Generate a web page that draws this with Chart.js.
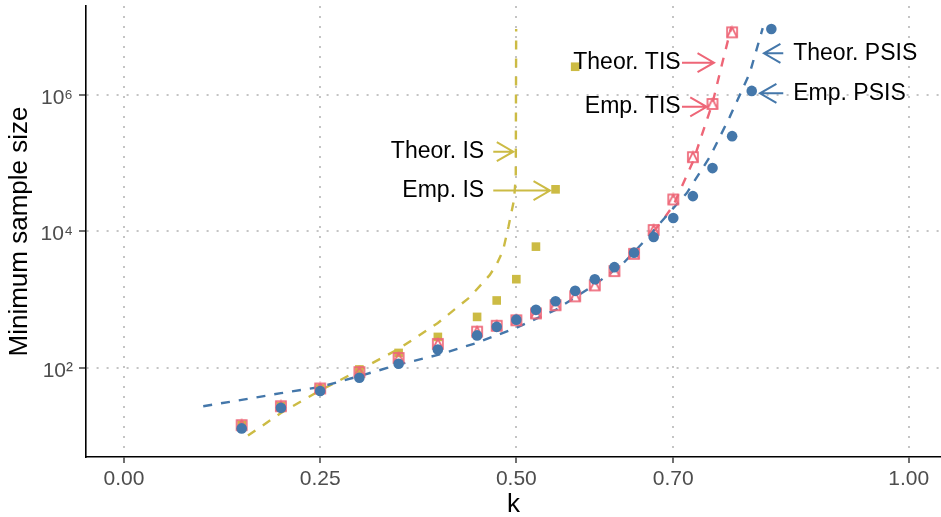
<!DOCTYPE html>
<html>
<head>
<meta charset="utf-8">
<script src="https://cdn.jsdelivr.net/npm/chart.js@4"></script>
<style>
  body { margin: 0; background: #fff; }
</style>
</head>
<body>
<canvas id="chart" width="941" height="517"></canvas>
<script>
// k values of the empirical runs
const kEmp = [0.15, 0.2, 0.25, 0.3, 0.35, 0.4, 0.45, 0.475, 0.5, 0.525, 0.55, 0.575,
              0.6, 0.625, 0.65, 0.675, 0.7, 0.725, 0.75, 0.775, 0.8, 0.825];
const empPSIS = [13, 26, 46, 72, 115, 186, 300, 400, 510, 710, 950, 1350,
                 2000, 3000, 4900, 8300, 15800, 33000, 85000, 250000, 1150000, 9300000];
const empTIS = [14.5, 27.5, 50, 87, 140, 225, 340, 415, 500, 630, 830, 1120,
                1620, 2630, 4700, 10500, 29500, 123000, 740000, 8300000];
const empIS = [14.5, 27.5, 50, 95, 166, 285, 560, 975, 2000, 6000, 41500, 2600000];

// theoretical curves
const kTheoIS = [0.158, 0.2, 0.25, 0.3, 0.35, 0.4, 0.44, 0.466, 0.475, 0.483, 0.49, 0.497, 0.4993, 0.4998];
const theoIS = [10.2, 21.9, 46.8, 93, 190, 457, 1070, 2290, 3310, 5250, 11750, 28800, 63000, 9300000];
const kTheoTIS = [0.675, 0.69, 0.7, 0.725, 0.75, 0.762, 0.774];
const theoTIS = [10000, 16600, 24000, 105000, 760000, 2800000, 10000000];
const kTheoPSIS = [0.101, 0.15, 0.2, 0.25, 0.3, 0.35, 0.4, 0.45, 0.5, 0.55, 0.6, 0.636,
                   0.664, 0.683, 0.717, 0.747, 0.772, 0.7975, 0.814];
const theoPSIS = [27.5, 34, 42.7, 52.5, 76, 112, 155, 234, 389, 708, 1660, 3390,
                  7410, 13200, 36300, 126000, 479000, 2090000, 9550000];

const xTicks = [0, 0.25, 0.5, 0.7, 1];
const yTicks = [1e2, 1e4, 1e6];

const BLUE = '#4477AA', RED = '#EE6677', YEL = '#CCBB44';
const FONT = '"Liberation Sans", Arial, Helvetica, sans-serif';

const pts = (ks, vs) => vs.map((v, i) => ({ x: ks[i], y: v }));

// square with triangle inside (R pch 14)
function tisMarker() {
  const s = 14, c = document.createElement('canvas');
  c.width = c.height = s;
  const g = c.getContext('2d');
  g.strokeStyle = RED;
  g.lineWidth = 1.7;
  const a = 2, b = 12;
  g.strokeRect(a, a, b - a, b - a);
  g.beginPath();
  g.moveTo(a, b); g.lineTo(s / 2, a); g.lineTo(b, b);
  g.stroke();
  return c;
}

const sup = { '0': '⁰', '1': '¹', '2': '²', '3': '³', '4': '⁴', '5': '⁵', '6': '⁶', '7': '⁷', '8': '⁸', '9': '⁹' };
const pow10 = v => '10' + String(Math.round(Math.log10(v))).split('').map(d => sup[d]).join('');

// labels with arrows
const notes = [
  { text: 'Theor. IS',   color: YEL,  align: 'right', k: 0.459,  v: 10 ** 5.17,  from: 0.4706, to: 0.4961 },
  { text: 'Emp. IS',     color: YEL,  align: 'right', k: 0.459,  v: 10 ** 4.60,  from: 0.4706, to: 0.5429 },
  { text: 'Theor. TIS',  color: RED,  align: 'right', k: 0.7094, v: 10 ** 6.474, from: 0.7111, to: 0.7519 },
  { text: 'Emp. TIS',    color: RED,  align: 'right', k: 0.7094, v: 10 ** 5.828, from: 0.7111, to: 0.7426 },
  { text: 'Theor. PSIS', color: BLUE, align: 'left',  k: 0.8529, v: 10 ** 6.611, from: 0.8402, to: 0.8156 },
  { text: 'Emp. PSIS',   color: BLUE, align: 'left',  k: 0.8529, v: 10 ** 6.025, from: 0.8402, to: 0.8105 },
];

const notesPlugin = {
  id: 'notes',
  afterDatasetsDraw(chart) {
    const { ctx, scales: { x, y } } = chart;
    ctx.save();
    ctx.font = '23px ' + FONT;
    ctx.textBaseline = 'middle';
    notes.forEach(n => {
      const py = y.getPixelForValue(n.v);
      const x0 = x.getPixelForValue(n.from), x1 = x.getPixelForValue(n.to);
      const dir = Math.sign(x1 - x0), L = 19, a = Math.PI / 6;
      ctx.strokeStyle = n.color;
      ctx.lineWidth = 2;
      ctx.beginPath();
      ctx.moveTo(x0, py); ctx.lineTo(x1, py);
      ctx.moveTo(x1 - dir * L * Math.cos(a), py - L * Math.sin(a));
      ctx.lineTo(x1, py);
      ctx.lineTo(x1 - dir * L * Math.cos(a), py + L * Math.sin(a));
      ctx.stroke();
      ctx.fillStyle = '#000';
      ctx.textAlign = n.align;
      ctx.fillText(n.text, x.getPixelForValue(n.k), py);
    });
    ctx.restore();
  }
};

const theoLine = (data, color, order) => ({
  data, order, showLine: true, borderColor: color, borderWidth: 2.4,
  borderDash: [9, 9], pointRadius: 0, tension: 0, fill: false
});

new Chart(document.getElementById('chart'), {
  type: 'scatter',
  data: {
    datasets: [
      { data: pts(kEmp, empPSIS), order: 0, pointStyle: 'circle', pointRadius: 5.3,
        backgroundColor: BLUE, borderWidth: 0 },
      { data: pts(kEmp, empTIS), order: 1, pointStyle: tisMarker(), pointRadius: 6 },
      { data: pts(kEmp, empIS), order: 2, pointStyle: 'rect', pointRadius: 6.1,
        backgroundColor: YEL, borderWidth: 0 },
      theoLine(pts(kTheoPSIS, theoPSIS), BLUE, 3),
      theoLine(pts(kTheoTIS, theoTIS), RED, 4),
      theoLine(pts(kTheoIS, theoIS), YEL, 5),
    ]
  },
  options: {
    responsive: false,
    animation: false,
    layout: { autoPadding: false, padding: { top: 6, right: 0, left: 0, bottom: 0 } },
    plugins: { legend: { display: false }, tooltip: { enabled: false } },
    scales: {
      x: {
        type: 'linear', min: -0.0484, max: 1.0412,
        afterBuildTicks: s => { s.ticks = xTicks.map(v => ({ value: v })); },
        afterFit: s => { s.height = 60; s.paddingLeft = 0; s.paddingRight = 0; },
        ticks: { callback: v => v.toFixed(2), color: '#4D4D4D', font: { family: FONT, size: 21 },
                 padding: 4, autoSkip: false, maxRotation: 0 },
        grid: { color: '#C4C4C4', lineWidth: 2, tickColor: '#333', tickLength: 6, tickWidth: 1.4 },
        border: { display: true, color: '#000', width: 1.6, dash: [2, 8] },
        title: { display: true, text: 'k', color: '#000', font: { family: FONT, size: 26 },
                 padding: { top: 4, bottom: -3.5 } }
      },
      y: {
        type: 'logarithmic', min: 4.95, max: 2.02e7,
        afterBuildTicks: s => { s.ticks = yTicks.map(v => ({ value: v })); },
        afterFit: s => { s.width = 86; s.paddingTop = 0; s.paddingBottom = 0; },
        ticks: { callback: v => pow10(v), color: '#4D4D4D', font: { family: FONT, size: 21 },
                 padding: 6, labelOffset: 3, autoSkip: false },
        grid: { color: '#C4C4C4', lineWidth: 2, tickColor: '#333', tickLength: 7, tickWidth: 1.4 },
        border: { display: true, color: '#000', width: 1.6, dash: [2, 8] },
        title: { display: true, text: 'Minimum sample size', color: '#000',
                 font: { family: FONT, size: 26 }, padding: { top: 4, bottom: 4 } }
      }
    }
  },
  plugins: [notesPlugin]
});
</script>
</body>
</html>
